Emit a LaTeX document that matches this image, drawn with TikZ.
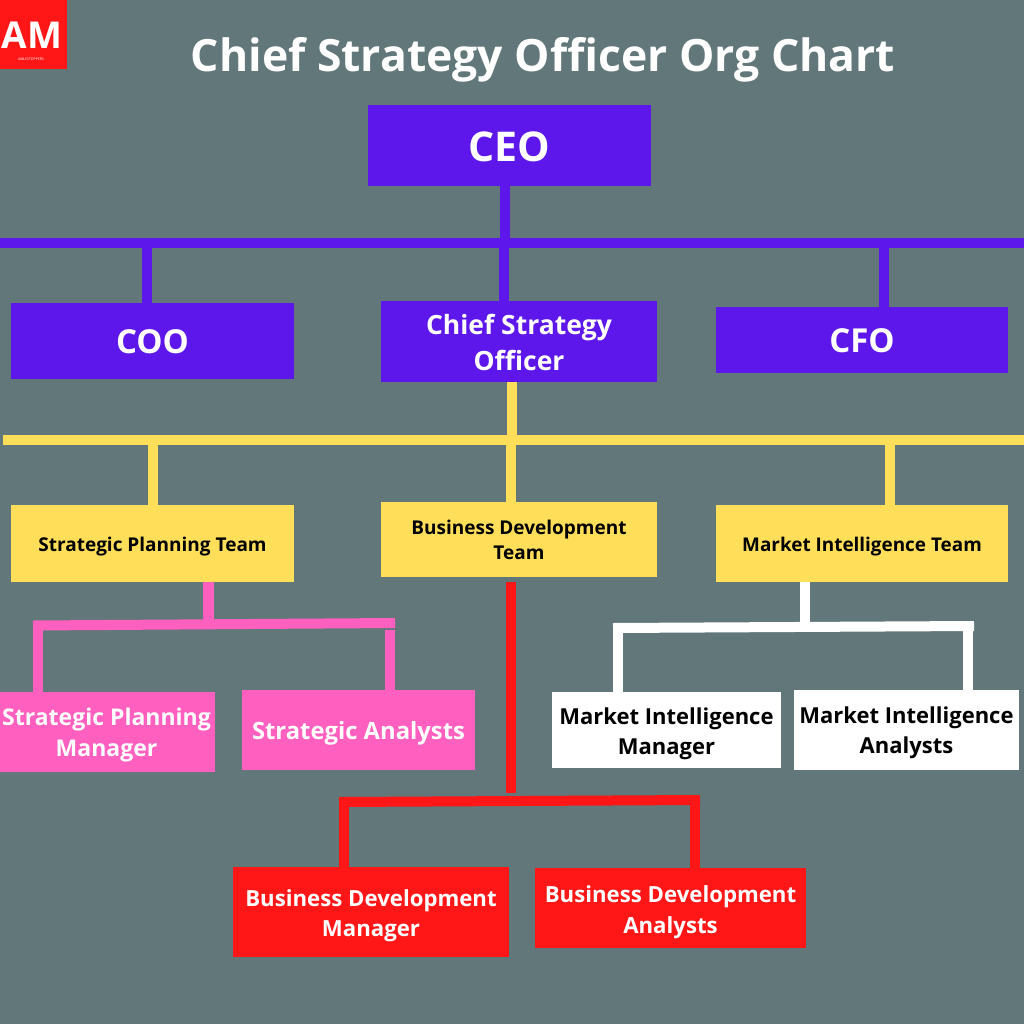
\documentclass[tikz,border=0pt]{standalone}
\usepackage{fontspec}
\setmainfont{Open Sans}[BoldFont={Open Sans Bold}]
\definecolor{bgc}{HTML}{62777A}
\definecolor{viol}{HTML}{5E17EB}
\definecolor{yel}{HTML}{FFDE59}
\definecolor{pnk}{HTML}{FF5FBE}
\definecolor{rd}{HTML}{FF1616}
\newcommand{\fs}[1]{\fontsize{#1}{#1}\selectfont\bfseries}
\newcommand{\dn}[2]{\raisebox{-#1pt}[\height][\depth]{#2}}
\begin{document}
\begin{tikzpicture}[x=1pt,y=-1pt,
  box/.style={inner sep=0pt,outer sep=0pt,align=center,anchor=center},
  conn/.style={line width=10pt,line cap=butt},
  vconn/.style={conn,draw=viol}, yconn/.style={conn,draw=yel},
  pconn/.style={conn,draw=pnk}, wconn/.style={conn,draw=white}, rconn/.style={conn,draw=rd},
  vbox/.style={box,fill=viol,text=white},
  ybox/.style={box,fill=yel,text=black},
  pbox/.style={box,fill=pnk,text=white},
  wbox/.style={box,fill=white,text=black},
  rbox/.style={box,fill=rd,text=white},
  title/.style={inner sep=0pt,text=white}]
\useasboundingbox (0,0) rectangle (1024,1024);
\fill[bgc] (0,0) rectangle (1024,1024);
% logo
\node[box,fill=rd,minimum width=67pt,minimum height=69pt] (logo) at (33.5,34.5) {};
\node[title] (am) at (32,35) {\fs{37}AM};
\node[title] (amsub) at (31,59) {\fontsize{3.5}{4}\selectfont AMLESTOPPERS};
\node[title] (ttl) at (543,60) {\fs{44.5}Chief Strategy Officer Org Chart};
% nodes
\node[vbox,minimum width=283pt,minimum height=81pt] (ceo) at (509,145.5) {\dn{1}{\fs{41}CEO}};
\node[vbox,minimum width=283pt,minimum height=76pt] (coo) at (152.5,341) {\dn{1}{\fs{33}COO}};
\node[vbox,minimum width=276pt,minimum height=81pt] (cso) at (519,341.5) {\dn{1}{\fs{26.5}Chief Strategy}\\[9pt]\dn{1}{\fs{26.5}Officer}};
\node[vbox,minimum width=292pt,minimum height=66pt] (cfo) at (862,340) {\dn{1}{\fs{33}CFO}};
\node[ybox,minimum width=283pt,minimum height=77pt] (spt) at (152.5,543.5) {\dn{3}{\fs{19}Strategic Planning Team}};
\node[ybox,minimum width=276pt,minimum height=75pt] (bdt) at (519,539.5) {\fs{19}Business Development\\[6pt]\fs{19}Team};
\node[ybox,minimum width=292pt,minimum height=77pt] (mit) at (862,543.5) {\dn{3}{\fs{18.9}Market Intelligence Team}};
\node[pbox,minimum width=217pt,minimum height=80pt] (spm) at (106.5,732) {\dn{3}{\fs{23}Strategic Planning}\\[8pt]\dn{3}{\fs{23}Manager}};
\node[pbox,minimum width=233pt,minimum height=80pt] (sa) at (358.5,730) {\dn{3}{\fs{23.8}Strategic Analysts}};
\node[wbox,minimum width=229pt,minimum height=76pt] (mim) at (666.5,730) {\dn{4}{\fs{22}Market Intelligence}\\[8pt]\dn{4}{\fs{22}Manager}};
\node[wbox,minimum width=225pt,minimum height=80pt] (mia) at (906.5,730) {\dn{3}{\fs{22}Market Intelligence}\\[7pt]\dn{3}{\fs{22}Analysts}};
\node[rbox,minimum width=276pt,minimum height=90pt] (bdm) at (371,912) {\dn{4}{\fs{22.2}Business Development}\\[8pt]\dn{4}{\fs{22.2}Manager}};
\node[rbox,minimum width=271pt,minimum height=80pt] (bda) at (670.5,908) {\dn{4}{\fs{22.2}Business Development}\\[8pt]\dn{4}{\fs{22.2}Analysts}};
% bus coordinates
\coordinate (v0) at (505,243); \coordinate (vl) at (0,243); \coordinate (vr) at (1024,243);
\coordinate (v1) at (147,248); \coordinate (v2) at (504,248); \coordinate (v3) at (884,248);
\coordinate (y0) at (512,437); \coordinate (yl) at (3,440); \coordinate (yr) at (1024,440);
\coordinate (y1) at (153,445); \coordinate (y2) at (511,445); \coordinate (y3) at (890,445);
\coordinate (p0) at (208,620); \coordinate (pl) at (33,625.5); \coordinate (pr) at (395,623);
\coordinate (p1) at (38,625); \coordinate (p2) at (390,630);
\coordinate (w0) at (805,622); \coordinate (wl) at (613,628); \coordinate (wr) at (974,626);
\coordinate (w1) at (618,628); \coordinate (w2) at (968,626);
\coordinate (r0) at (511,793); \coordinate (rl) at (339,802); \coordinate (rr) at (700,800);
\coordinate (r1) at (344,802); \coordinate (r2) at (695,805);
% connectors
\draw[vconn] (ceo.south -| v0) -- (v0);
\draw[vconn] (vl) -- (vr);
\draw[vconn] (v1) -- (v1 |- coo.north);
\draw[vconn] (v2) -- (v2 |- cso.north);
\draw[vconn] (v3) -- (v3 |- cfo.north);
\draw[yconn] (cso.south -| y0) -- (y0);
\draw[yconn] (yl) -- (yr);
\draw[yconn] (y1) -- (y1 |- spt.north);
\draw[yconn] (y2) -- (y2 |- bdt.north);
\draw[yconn] (y3) -- (y3 |- mit.north);
\draw[pconn,line width=11pt] (spt.south -| p0) -- (p0);
\draw[pconn] (pl) -- (pr);
\draw[pconn] (p1) -- ([yshift=-3pt]p1 |- spm.north);
\draw[pconn] (p2) -- ([yshift=-1pt]p2 |- sa.north);
\draw[wconn] (mit.south -| w0) -- (w0);
\draw[wconn] (wl) -- (wr);
\draw[wconn] (w1) -- (w1 |- mim.north);
\draw[wconn] (w2) -- (w2 |- mia.north);
\draw[rconn] (bdt.south -| r0) ++(0,5) -- (r0);
\draw[rconn] (rl) -- (rr);
\draw[rconn] (r1) -- (r1 |- bdm.north);
\draw[rconn] (r2) -- (r2 |- bda.north);
\end{tikzpicture}
\end{document}
